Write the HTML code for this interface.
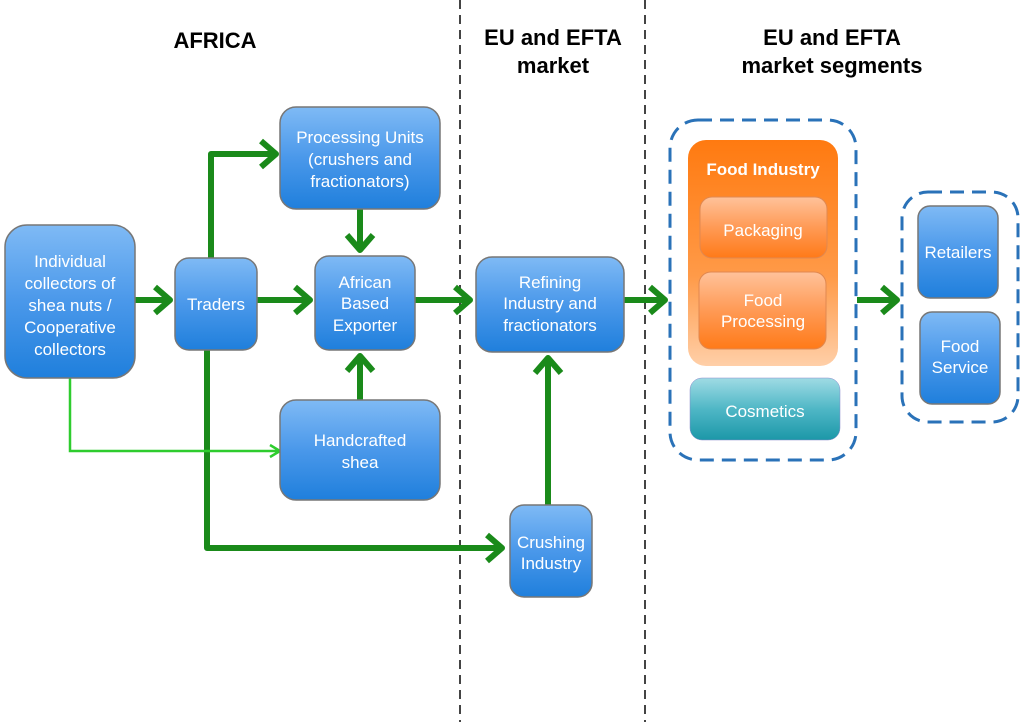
<!DOCTYPE html>
<html><head><meta charset="utf-8"><style>
html,body{margin:0;padding:0;background:#fff;}
svg{display:block;}
text{font-family:"Liberation Sans",sans-serif;}
.w{fill:#fff;font-size:17px;text-anchor:middle;}
.h{fill:#000;font-size:22px;font-weight:bold;text-anchor:middle;}
</style></head><body>
<svg width="1024" height="722" viewBox="0 0 1024 722" xmlns="http://www.w3.org/2000/svg">
<defs>
<linearGradient id="bl" x1="0" y1="0" x2="0" y2="1">
<stop offset="0" stop-color="#7fbaf5"/><stop offset="0.5" stop-color="#4a98ea"/><stop offset="1" stop-color="#1f7fdc"/></linearGradient>
<linearGradient id="or" x1="0" y1="0" x2="0" y2="1">
<stop offset="0" stop-color="#ff7a10"/><stop offset="0.6" stop-color="#ff9a48"/><stop offset="1" stop-color="#ffcfa8"/></linearGradient>
<linearGradient id="or2" x1="0" y1="0" x2="0" y2="1">
<stop offset="0" stop-color="#ffc29a"/><stop offset="0.5" stop-color="#ff9a55"/><stop offset="1" stop-color="#ff7a18"/></linearGradient>
<linearGradient id="tl" x1="0" y1="0" x2="0" y2="1">
<stop offset="0" stop-color="#9fdbe4"/><stop offset="0.5" stop-color="#4fb7c6"/><stop offset="1" stop-color="#1c98a8"/></linearGradient>
</defs>
<line x1="460" y1="0" x2="460" y2="722" stroke="#444" stroke-width="2" stroke-dasharray="9,6"/>
<line x1="645" y1="0" x2="645" y2="722" stroke="#444" stroke-width="2" stroke-dasharray="9,6"/>
<text class="h" x="215" y="48">AFRICA</text>
<text class="h" x="553" y="45">EU and EFTA</text>
<text class="h" x="553" y="73">market</text>
<text class="h" x="832" y="45">EU and EFTA</text>
<text class="h" x="832" y="73">market segments</text>

<g fill="none" stroke="#1a8a1a" stroke-width="6" stroke-linejoin="round">
<path d="M135 300H168M155 287L170 300L155 313"/>
<path d="M257 300H308M295 287L310 300L295 313"/>
<path d="M211 258V154H274M261 141L276 154L261 167"/>
<path d="M360 209V248M347 235L360 250L373 235"/>
<path d="M360 400V358M347 371L360 356L373 371"/>
<path d="M415 300H468M455 287L470 300L455 313"/>
<path d="M207 350V548H500M487 535L502 548L487 561"/>
<path d="M548 505V360M535 373L548 358L561 373"/>
<path d="M624 300H663M650 287L665 300L650 313"/>
<path d="M857 300H895M882 287L897 300L882 313"/>
</g>
<path d="M70 378V451H278M270 445L280 451L270 457" fill="none" stroke="#2ecc2e" stroke-width="2.5"/>

<g stroke="#777" stroke-width="1.5">
<rect x="5" y="225" width="130" height="153" rx="22" fill="url(#bl)"/>
<rect x="175" y="258" width="82" height="92" rx="14" fill="url(#bl)"/>
<rect x="280" y="107" width="160" height="102" rx="16" fill="url(#bl)"/>
<rect x="315" y="256" width="100" height="94" rx="14" fill="url(#bl)"/>
<rect x="280" y="400" width="160" height="100" rx="16" fill="url(#bl)"/>
<rect x="476" y="257" width="148" height="95" rx="16" fill="url(#bl)"/>
<rect x="510" y="505" width="82" height="92" rx="14" fill="url(#bl)"/>
<rect x="918" y="206" width="80" height="92" rx="12" fill="url(#bl)"/>
<rect x="920" y="312" width="80" height="92" rx="12" fill="url(#bl)"/>
</g>
<rect x="670" y="120" width="186" height="340" rx="28" fill="none" stroke="#2a72b8" stroke-width="3" stroke-dasharray="14,8"/>
<rect x="902" y="192" width="116" height="230" rx="26" fill="none" stroke="#2a72b8" stroke-width="3" stroke-dasharray="14,8"/>
<rect x="688" y="140" width="150" height="226" rx="18" fill="url(#or)"/>
<rect x="700" y="197" width="127" height="61" rx="12" fill="url(#or2)" stroke="#e08850" stroke-width="1"/>
<rect x="699" y="272" width="127" height="77" rx="12" fill="url(#or2)" stroke="#e08850" stroke-width="1"/>
<rect x="690" y="378" width="150" height="62" rx="12" fill="url(#tl)" stroke="#88c" stroke-width="0.5"/>

<g class="w">
<text x="70" y="267" class="w">Individual</text>
<text x="70" y="289" class="w">collectors of</text>
<text x="70" y="311" class="w">shea nuts /</text>
<text x="70" y="333" class="w">Cooperative</text>
<text x="70" y="355" class="w">collectors</text>
<text x="216" y="310" class="w">Traders</text>
<text x="360" y="143" class="w">Processing Units</text>
<text x="360" y="165" class="w">(crushers and</text>
<text x="360" y="187" class="w">fractionators)</text>
<text x="365" y="288" class="w">African</text>
<text x="365" y="309" class="w">Based</text>
<text x="365" y="331" class="w">Exporter</text>
<text x="360" y="446" class="w">Handcrafted</text>
<text x="360" y="468" class="w">shea</text>
<text x="550" y="288" class="w">Refining</text>
<text x="550" y="309" class="w">Industry and</text>
<text x="550" y="331" class="w">fractionators</text>
<text x="551" y="548" class="w">Crushing</text>
<text x="551" y="569" class="w">Industry</text>
<text x="958" y="258" class="w">Retailers</text>
<text x="960" y="352" class="w">Food</text>
<text x="960" y="373" class="w">Service</text>
<text x="763" y="236" class="w">Packaging</text>
<text x="763" y="306" class="w">Food</text>
<text x="763" y="327" class="w">Processing</text>
<text x="765" y="417" class="w">Cosmetics</text>
<text x="763" y="175" class="w" style="font-weight:bold">Food Industry</text>
</g>
</svg>
</body></html>
